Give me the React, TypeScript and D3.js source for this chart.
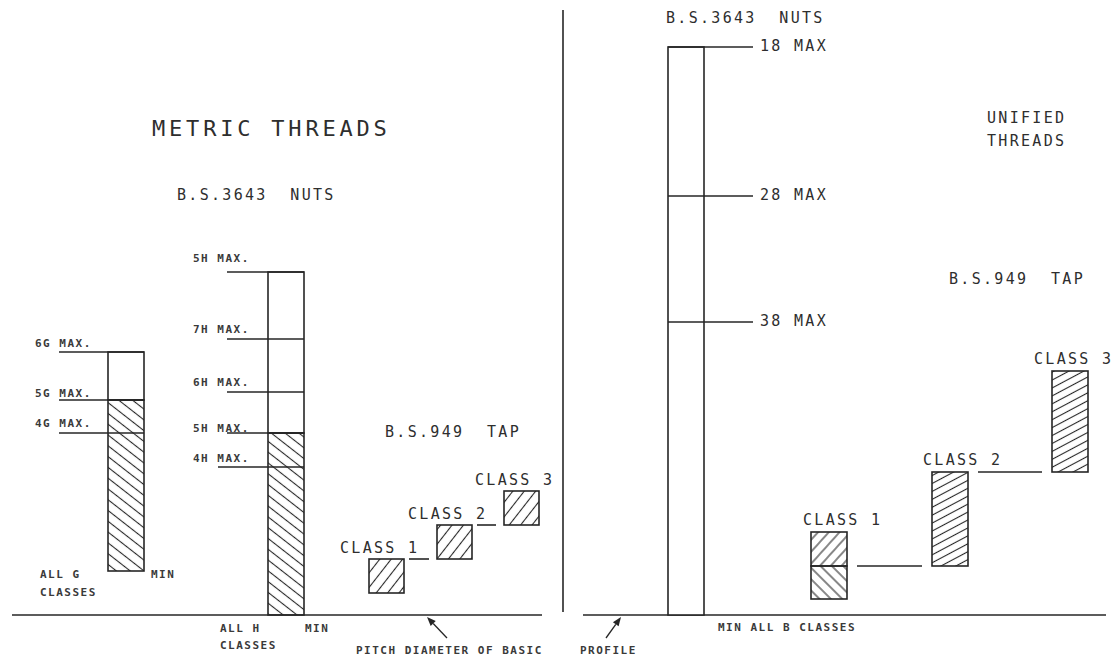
import React from "react";
import * as d3 from "d3";

// ---- data (tolerance levels, in units above the basic pitch diameter) ----
const gLabels = ["6G MAX.", "5G MAX.", "4G MAX."];
const gValues = [263, 215, 182];
const gMin = 44;

const hLabels = ["5H MAX.", "7H MAX.", "6H MAX.", "5H MAX.", "4H MAX."];
const hValues = [343, 276, 223, 182, 148];
const hMin = 0;

const tapLeftNames = ["CLASS 1", "CLASS 2", "CLASS 3"];
const tapLeftLo = [22, 56, 90];
const tapLeftHi = [56, 90, 124];

const nutRightLabels = ["18 MAX", "28 MAX", "38 MAX"];
const nutRightValues = [568, 419, 293];

const tapRightNames = ["CLASS 1", "CLASS 2", "CLASS 3"];
const tapRightLo = [16, 49, 143];
const tapRightHi = [83, 143, 244];
const tapRightMid = 49;

// ---- layout ----
const W = 1115;
const H = 659;
const INK = "#262626";
const TXT = "#2e2e2e";
const FONT = "'DejaVu Sans Mono', monospace";

const y = d3.scaleLinear().domain([0, 600]).range([615, 15]);

const gX = [108, 144];
const hX = [268, 304];
const tapLeftX = [369, 437, 504];
const tapLeftW = 35;
const nutX = [668, 704];
const tapRightX = [811, 932, 1052];
const tapRightW = 36;

const gLabelDy = [-5, -3, -6];
const hLabelDy = [-10, -6, -6, -1, -5];

type TP = { x: number; y: number; s?: "sm" | "md" | "lg"; children: string };
const sizes = {
  sm: { fs: 11, ls: 1.5, fw: "bold" },
  md: { fs: 15, ls: 2.3, fw: "normal" },
  lg: { fs: 22, ls: 3.8, fw: "normal" },
};
function T({ x, y, s = "md", children }: TP) {
  const z = sizes[s];
  return (
    <text
      x={x}
      y={y}
      fontFamily={FONT}
      fontSize={z.fs}
      fontWeight={z.fw}
      letterSpacing={z.ls}
      fill={s === "sm" ? "#3a3a3a" : TXT}
      style={{ whiteSpace: "pre" }}
    >
      {children}
    </text>
  );
}

function Hatch({ id, angle, gap }: { id: string; angle: number; gap: number }) {
  return (
    <pattern
      id={id}
      patternUnits="userSpaceOnUse"
      width={gap}
      height={gap}
      patternTransform={`rotate(${angle})`}
    >
      <line x1={-1} y1={gap / 2} x2={gap + 1} y2={gap / 2} stroke={INK} strokeWidth={1.1} />
    </pattern>
  );
}

function Arrow({ x1, y1, x2, y2 }: { x1: number; y1: number; x2: number; y2: number }) {
  const a = Math.atan2(y2 - y1, x2 - x1);
  const L = 9, w = 3.5;
  const bx = x2 - L * Math.cos(a), by = y2 - L * Math.sin(a);
  const px = -Math.sin(a) * w, py = Math.cos(a) * w;
  return (
    <g>
      <line x1={x1} y1={y1} x2={bx} y2={by} stroke={INK} strokeWidth={1.3} />
      <path d={`M${x2},${y2}L${bx + px},${by + py}L${bx - px},${by - py}Z`} fill={INK} />
    </g>
  );
}

export default function App() {
  const sw = 1.6;
  const box = (x0: number, x1: number, top: number, bot: number, fill: string, key?: string) => (
    <rect key={key} x={x0} y={top} width={x1 - x0} height={bot - top} fill={fill} stroke={INK} strokeWidth={sw} />
  );
  return (
    <svg width={W} height={H} style={{ position: "absolute", left: 0, top: 0, background: "#fff" }}>
      <defs>
        <Hatch id="hBack" angle={38} gap={8.5} />
        <Hatch id="hTapL" angle={-52} gap={9} />
        <Hatch id="hTapR" angle={-28} gap={7} />
        <Hatch id="hC1a" angle={-48} gap={8} />
        <Hatch id="hC1b" angle={45} gap={8} />
      </defs>
      <rect width={W} height={H} fill="#fff" />

      {/* baselines & divider */}
      <line x1={12} x2={542} y1={y(0)} y2={y(0)} stroke={INK} strokeWidth={sw} />
      <line x1={583} x2={1106} y1={y(0)} y2={y(0)} stroke={INK} strokeWidth={sw} />
      <line x1={563} x2={563} y1={10} y2={612} stroke={INK} strokeWidth={sw} />

      {/* ---------- LEFT: METRIC ---------- */}
      <T x={152} y={136} s="lg">METRIC THREADS</T>
      <T x={177} y={200}>{"B.S.3643  NUTS"}</T>
      <T x={385} y={437}>{"B.S.949  TAP"}</T>

      {/* G bar */}
      {box(gX[0], gX[1], y(gValues[0]), y(gValues[1]), "#fff")}
      {box(gX[0], gX[1], y(gValues[1]), y(gMin), "url(#hBack)")}
      {gValues.map((v, i) => (
        <g key={"g" + i}>
          <line x1={59} x2={gX[1]} y1={y(v)} y2={y(v)} stroke={INK} strokeWidth={sw} />
          <T x={35} y={y(v) + gLabelDy[i]} s="sm">{gLabels[i]}</T>
        </g>
      ))}
      <T x={40} y={578} s="sm">ALL G</T>
      <T x={40} y={596} s="sm">CLASSES</T>
      <T x={151} y={578} s="sm">MIN</T>

      {/* H bar */}
      {box(hX[0], hX[1], y(hValues[0]), y(hValues[3]), "#fff")}
      {box(hX[0], hX[1], y(hValues[3]), y(hMin), "url(#hBack)")}
      {hValues.map((v, i) => (
        <g key={"h" + i}>
          <line x1={i === hValues.length - 1 ? 218 : 227} x2={hX[1]} y1={y(v)} y2={y(v)} stroke={INK} strokeWidth={sw} />
          <T x={193} y={y(v) + hLabelDy[i]} s="sm">{hLabels[i]}</T>
        </g>
      ))}
      <T x={220} y={632} s="sm">ALL H</T>
      <T x={220} y={649} s="sm">CLASSES</T>
      <T x={305} y={632} s="sm">MIN</T>

      {/* left tap classes */}
      {tapLeftNames.map((n, i) => (
        <g key={"tl" + i}>
          {box(tapLeftX[i], tapLeftX[i] + tapLeftW, y(tapLeftHi[i]), y(tapLeftLo[i]), "url(#hTapL)")}
          <T x={tapLeftX[i] - 29} y={y(tapLeftHi[i]) - 6}>{n}</T>
          {i < tapLeftNames.length - 1 && (
            <line
              x1={tapLeftX[i] + tapLeftW + 5}
              x2={tapLeftX[i + 1] - 8}
              y1={y(tapLeftHi[i])}
              y2={y(tapLeftHi[i])}
              stroke={INK}
              strokeWidth={sw}
            />
          )}
        </g>
      ))}

      <Arrow x1={447} y1={638} x2={427} y2={617} />
      <Arrow x1={606} y1={638} x2={621} y2={617} />
      <T x={356} y={654} s="sm">PITCH DIAMETER OF BASIC</T>
      <T x={580} y={654} s="sm">PROFILE</T>

      {/* ---------- RIGHT: UNIFIED ---------- */}
      <T x={666} y={23}>{"B.S.3643  NUTS"}</T>
      {box(nutX[0], nutX[1], y(nutRightValues[0]), y(0), "#fff")}
      {nutRightValues.map((v, i) => (
        <g key={"n" + i}>
          <line x1={nutX[0]} x2={753} y1={y(v)} y2={y(v)} stroke={INK} strokeWidth={sw} />
          <T x={760} y={y(v) + 4}>{nutRightLabels[i]}</T>
        </g>
      ))}
      <T x={718} y={631} s="sm">MIN ALL B CLASSES</T>

      <T x={987} y={123}>UNIFIED</T>
      <T x={987} y={146}>THREADS</T>
      <T x={949} y={284}>{"B.S.949  TAP"}</T>

      {tapRightNames.map((n, i) => {
        const x0 = tapRightX[i], x1 = x0 + tapRightW;
        return (
          <g key={"tr" + i}>
            {i === 0 ? (
              <g>
                {box(x0, x1, y(tapRightHi[i]), y(tapRightMid), "url(#hC1a)")}
                {box(x0, x1, y(tapRightMid), y(tapRightLo[i]), "url(#hC1b)")}
              </g>
            ) : (
              box(x0, x1, y(tapRightHi[i]), y(tapRightLo[i]), "url(#hTapR)")
            )}
            <T x={x0 - (i === 0 ? 8 : i === 1 ? 9 : 18)} y={y(tapRightHi[i]) - 7}>{n}</T>
            {i < tapRightNames.length - 1 && (
              <line
                x1={x1 + 10}
                x2={tapRightX[i + 1] - 10}
                y1={y(tapRightLo[i + 1])}
                y2={y(tapRightLo[i + 1])}
                stroke={INK}
                strokeWidth={sw}
              />
            )}
          </g>
        );
      })}
    </svg>
  );
}
